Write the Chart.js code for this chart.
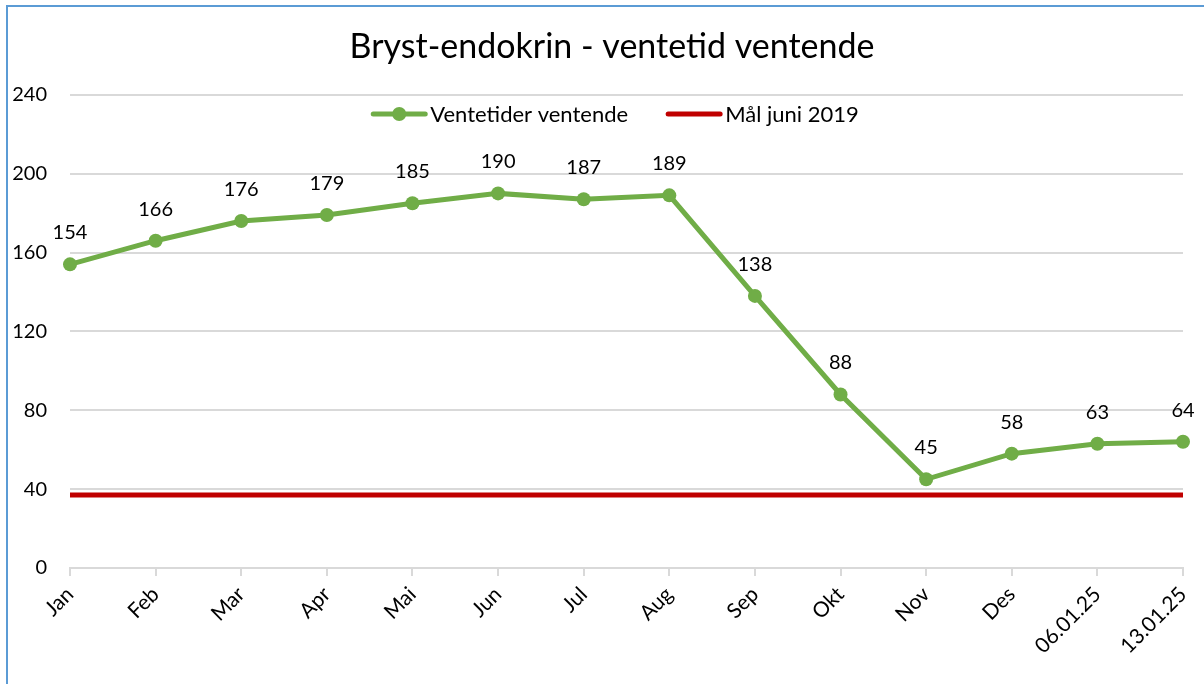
<!DOCTYPE html>
<html>
<head>
<meta charset="utf-8">
<script src="https://cdn.jsdelivr.net/npm/chart.js@4/dist/chart.umd.min.js"></script>
<style>
  html, body { margin: 0; padding: 0; background: #fff; }
  #wrap { position: relative; width: 1204px; height: 684px; overflow: hidden; }
  #frame {
    position: absolute; left: 6px; top: 5px; right: -10px; bottom: -10px;
    border-left: 2px solid #5b9bd5; border-top: 2px solid #5b9bd5;
    pointer-events: none;
  }
</style>
</head>
<body>
<div id="wrap">
  <canvas id="waitChart" width="1204" height="684"></canvas>
  <div id="frame"></div>
</div>
<script>
// data
const labels = ['Jan', 'Feb', 'Mar', 'Apr', 'Mai', 'Jun', 'Jul', 'Aug', 'Sep', 'Okt', 'Nov', 'Des', '06.01.25', '13.01.25'];
const waitValues = [154, 166, 176, 179, 185, 190, 187, 189, 138, 88, 45, 58, 63, 64];
const targetValues = [37, 37, 37, 37, 37, 37, 37, 37, 37, 37, 37, 37, 37, 37];
const yMin = 0;
const yMax = 240;
const yStep = 40;

const FONT = 'Lato, "Noto Sans", sans-serif';
const GREEN = '#70ad47';
const RED = '#c00000';
const GRID = '#d9d9d9';

// value labels above the green series
const valueLabels = {
  id: 'valueLabels',
  afterDatasetsDraw(chart) {
    const ctx = chart.ctx;
    const meta = chart.getDatasetMeta(1);
    ctx.save();
    ctx.font = '20px ' + FONT;
    ctx.fillStyle = '#000';
    ctx.textAlign = 'center';
    ctx.textBaseline = 'alphabetic';
    meta.data.forEach((pt, i) => {
      ctx.fillText(String(chart.data.datasets[1].data[i]), pt.x, pt.y - 25);
    });
    ctx.restore();
  }
};

// legend drawn inside the plot area, like the original
const innerLegend = {
  id: 'innerLegend',
  afterDraw(chart) {
    const ctx = chart.ctx;
    const order = [1, 0];
    const sampleW = 56, textGap = 3, itemGap = 38;
    ctx.save();
    ctx.font = '22px ' + FONT;
    const widths = order.map(i => ctx.measureText(chart.data.datasets[i].label).width);
    let total = 0;
    widths.forEach((w, k) => { total += sampleW + textGap + w + (k ? itemGap : 0); });
    let x = 615 - total / 2;
    const y = 114;
    order.forEach((i, k) => {
      const ds = chart.data.datasets[i];
      ctx.strokeStyle = ds.borderColor;
      ctx.lineWidth = 5;
      ctx.lineCap = 'round';
      ctx.beginPath();
      ctx.moveTo(x + 2, y);
      ctx.lineTo(x + sampleW - 2, y);
      ctx.stroke();
      if (ds.pointRadius) {
        ctx.fillStyle = ds.pointBackgroundColor;
        ctx.beginPath();
        ctx.arc(x + sampleW / 2, y, 7, 0, Math.PI * 2);
        ctx.fill();
      }
      ctx.fillStyle = '#000';
      ctx.textAlign = 'left';
      ctx.textBaseline = 'middle';
      ctx.fillText(ds.label, x + sampleW + textGap, y + 1);
      x += sampleW + textGap + widths[k] + itemGap;
    });
    ctx.restore();
  }
};

// nudge the title centre a little to the right, as in the original
const titleShift = {
  id: 'titleShift',
  afterLayout(chart) {
    if (chart.titleBlock) chart.titleBlock.left += 20;
  }
};

const ctx = document.getElementById('waitChart');
new Chart(ctx, {
  type: 'line',
  data: {
    labels: labels,
    datasets: [
      {
        label: 'Mål juni 2019',
        data: targetValues,
        borderColor: RED,
        backgroundColor: RED,
        borderWidth: 5,
        pointRadius: 0,
        tension: 0,
        order: 2
      },
      {
        label: 'Ventetider ventende',
        data: waitValues,
        borderColor: GREEN,
        backgroundColor: GREEN,
        pointBackgroundColor: GREEN,
        pointBorderColor: GREEN,
        borderWidth: 5,
        pointRadius: 7,
        pointBorderWidth: 0,
        tension: 0,
        order: 1
      }
    ]
  },
  options: {
    responsive: false,
    animation: false,
    layout: { padding: { left: 0, right: 0, top: 0, bottom: 0 } },
    plugins: {
      legend: { display: false },
      tooltip: { enabled: false },
      title: {
        display: true,
        text: 'Bryst-endokrin - ventetid ventende',
        color: '#000',
        font: { family: FONT, size: 34, weight: 'normal', lineHeight: 1.2 },
        padding: { top: 27, bottom: 27 }
      }
    },
    scales: {
      x: {
        offset: false,
        grid: {
          drawOnChartArea: false,
          drawTicks: true,
          tickLength: 8,
          color: GRID,
          lineWidth: 2
        },
        border: { display: true, color: GRID, width: 2 },
        ticks: {
          color: '#000',
          font: { family: FONT, size: 21 },
          minRotation: 45,
          maxRotation: 45,
          padding: 6,
          autoSkip: false
        },
        afterFit(scale) {
          scale.height = 116;
          scale.paddingLeft = 0;
          scale.paddingRight = 21;
        }
      },
      y: {
        min: yMin,
        max: yMax,
        grid: { color: GRID, lineWidth: 2, drawTicks: false },
        border: { display: false },
        ticks: {
          stepSize: yStep,
          color: '#000',
          font: { family: FONT, size: 20 },
          padding: 23
        },
        afterFit(scale) {
          scale.width = 70;
        }
      }
    }
  },
  plugins: [valueLabels, innerLegend, titleShift]
});
</script>
</body>
</html>
